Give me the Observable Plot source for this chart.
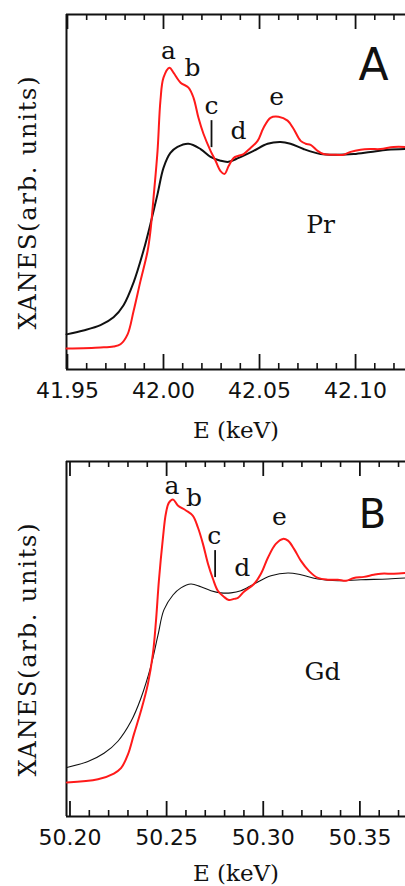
<!DOCTYPE html>
<html>
<head>
<meta charset="utf-8">
<script src="https://cdn.jsdelivr.net/npm/d3@7"></script>
<script src="https://cdn.jsdelivr.net/npm/@observablehq/plot@0.6"></script>
<style>
  html, body { margin: 0; padding: 0; background: #fff; }
  #chart svg { display: block; }
</style>
</head>
<body>
<div id="chart"></div>
<script>
// ---------- Panel A (Pr) ----------
const energyA_red = [41.9495, 41.9672, 41.9740, 41.9776, 41.9813, 41.9844, 41.9880, 41.9917, 41.9932, 41.9948, 41.9969, 41.9984, 42.0000, 42.0031, 42.0052, 42.0089, 42.0130, 42.0156, 42.0182, 42.0208, 42.0245, 42.0271, 42.0297, 42.0318, 42.0339, 42.0365, 42.0391, 42.0417, 42.0453, 42.0490, 42.0521, 42.0557, 42.0599, 42.0646, 42.0677, 42.0714, 42.0740, 42.0766, 42.0802, 42.0833, 42.0885, 42.0938, 42.0974, 42.1026, 42.1078, 42.1130, 42.1198, 42.1260];
const xanesA_red = [0.059, 0.062, 0.065, 0.071, 0.099, 0.164, 0.249, 0.333, 0.390, 0.483, 0.616, 0.757, 0.822, 0.850, 0.836, 0.808, 0.794, 0.766, 0.709, 0.664, 0.616, 0.588, 0.559, 0.551, 0.573, 0.596, 0.602, 0.607, 0.624, 0.644, 0.681, 0.709, 0.712, 0.701, 0.678, 0.644, 0.636, 0.633, 0.616, 0.607, 0.605, 0.605, 0.613, 0.619, 0.621, 0.621, 0.627, 0.627];
const energyA_black = [41.9495, 41.9583, 41.9672, 41.9740, 41.9792, 41.9844, 41.9896, 41.9932, 41.9969, 42.0000, 42.0036, 42.0073, 42.0130, 42.0193, 42.0245, 42.0297, 42.0339, 42.0391, 42.0469, 42.0542, 42.0609, 42.0661, 42.0729, 42.0818, 42.0906, 42.0990, 42.1078, 42.1167, 42.1260];
const xanesA_black = [0.099, 0.110, 0.125, 0.147, 0.181, 0.245, 0.335, 0.410, 0.494, 0.568, 0.610, 0.627, 0.636, 0.621, 0.599, 0.588, 0.585, 0.596, 0.616, 0.636, 0.641, 0.636, 0.621, 0.607, 0.605, 0.607, 0.613, 0.619, 0.621];
const xDomainA = [41.9495, 42.1260];
const majorTicksA = [41.95, 42.00, 42.05, 42.10];
const minorTicksA = [41.96, 41.97, 41.98, 41.99, 42.01, 42.02, 42.03, 42.04, 42.06, 42.07, 42.08, 42.09, 42.11, 42.12];
const labelsA = [
  {text: "a", e: 42.0026, v: 0.896},
  {text: "b", e: 42.0151, v: 0.848},
  {text: "c", e: 42.0250, v: 0.741},
  {text: "d", e: 42.0391, v: 0.673},
  {text: "e", e: 42.0589, v: 0.769},
  {text: "Pr", e: 42.0818, v: 0.406}
];
const markerA = {e: 42.0250, v1: 0.701, v2: 0.625};
const panelLetterA = {text: "A", e: 42.1094, v: 0.854, size: 44};

// ---------- Panel B (Gd) ----------
const energyB_red = [50.1984, 50.2145, 50.2227, 50.2264, 50.2300, 50.2331, 50.2367, 50.2403, 50.2429, 50.2445, 50.2460, 50.2481, 50.2496, 50.2512, 50.2533, 50.2558, 50.2600, 50.2636, 50.2662, 50.2688, 50.2714, 50.2740, 50.2765, 50.2796, 50.2822, 50.2848, 50.2869, 50.2900, 50.2952, 50.2988, 50.3024, 50.3065, 50.3102, 50.3128, 50.3159, 50.3195, 50.3236, 50.3283, 50.3334, 50.3386, 50.3428, 50.3469, 50.3521, 50.3572, 50.3609, 50.3676, 50.3738];
const xanesB_red = [0.096, 0.105, 0.121, 0.136, 0.175, 0.232, 0.297, 0.373, 0.458, 0.551, 0.664, 0.785, 0.853, 0.884, 0.893, 0.876, 0.862, 0.847, 0.814, 0.768, 0.712, 0.669, 0.636, 0.619, 0.610, 0.613, 0.616, 0.633, 0.655, 0.684, 0.729, 0.768, 0.782, 0.777, 0.754, 0.720, 0.692, 0.672, 0.667, 0.667, 0.664, 0.672, 0.675, 0.681, 0.684, 0.684, 0.686];
const energyB_black = [50.1984, 50.2093, 50.2176, 50.2248, 50.2316, 50.2367, 50.2419, 50.2455, 50.2486, 50.2533, 50.2574, 50.2626, 50.2677, 50.2729, 50.2781, 50.2833, 50.2884, 50.2952, 50.3040, 50.3128, 50.3195, 50.3283, 50.3386, 50.3505, 50.3645, 50.3738];
const xanesB_black = [0.138, 0.155, 0.178, 0.212, 0.268, 0.333, 0.424, 0.510, 0.582, 0.624, 0.644, 0.655, 0.647, 0.636, 0.630, 0.630, 0.636, 0.655, 0.678, 0.686, 0.681, 0.669, 0.664, 0.667, 0.669, 0.672];
const xDomainB = [50.1982, 50.3736];
const majorTicksB = [50.20, 50.25, 50.30, 50.35];
const minorTicksB = [50.21, 50.22, 50.23, 50.24, 50.26, 50.27, 50.28, 50.29, 50.31, 50.32, 50.33, 50.34, 50.36, 50.37];
const labelsB = [
  {text: "a", e: 50.2528, v: 0.932},
  {text: "b", e: 50.2642, v: 0.896},
  {text: "c", e: 50.2746, v: 0.789},
  {text: "d", e: 50.2891, v: 0.699},
  {text: "e", e: 50.3083, v: 0.845},
  {text: "Gd", e: 50.3306, v: 0.408}
];
const markerB = {e: 50.2751, v1: 0.749, v2: 0.673};
const panelLetterB = {text: "B", e: 50.3565, v: 0.848, size: 40};

const yLabel = "XANES(arb. units)";
const xLabel = "E (keV)";

const serif = "'DejaVu Serif', serif";
const sans = "'DejaVu Sans', sans-serif";

function zip(xs, ys) { return xs.map((x, i) => ({e: x, v: ys[i]})); }

function panel(cfg) {
  const plotH = cfg.height - cfg.marginTop - cfg.marginBottom;
  return Plot.plot({
    width: 405,
    height: cfg.height,
    marginLeft: 66,
    marginRight: 0,
    marginTop: cfg.marginTop,
    marginBottom: cfg.marginBottom,
    x: {domain: cfg.xDomain, axis: null},
    y: {domain: [0, 1], axis: null},
    style: {background: "#fff", overflow: "hidden"},
    marks: [
      // frame (left, top, bottom)
      Plot.ruleX([cfg.xDomain[0]], {stroke: "#111", strokeWidth: 2}),
      Plot.ruleY([0, 1], {stroke: "#111", strokeWidth: 2}),
      // inward ticks, bottom and top
      Plot.tickX(cfg.major, {x: d => d, insetTop: plotH - 15, stroke: "#111", strokeWidth: 1.8}),
      Plot.tickX(cfg.major, {x: d => d, insetBottom: plotH - 15, stroke: "#111", strokeWidth: 1.8}),
      Plot.tickX(cfg.minor, {x: d => d, insetTop: plotH - 6, stroke: "#111", strokeWidth: 1.6}),
      Plot.tickX(cfg.minor, {x: d => d, insetBottom: plotH - 6, stroke: "#111", strokeWidth: 1.6}),
      // tick labels
      Plot.axisX(cfg.major, {anchor: "bottom", tickSize: 0, tickPadding: 13, tickFormat: d3.format(".2f"),
        fontSize: 22, fontFamily: sans, fill: "#111", label: null}),
      // curves
      Plot.line(zip(cfg.eBlack, cfg.vBlack), {x: "e", y: "v", stroke: "#111", strokeWidth: cfg.blackWidth, curve: "catmull-rom"}),
      Plot.line(zip(cfg.eRed, cfg.vRed), {x: "e", y: "v", stroke: "#ff1a1a", strokeWidth: 2, curve: "catmull-rom"}),
      // annotations
      Plot.text(cfg.labels, {x: "e", y: "v", text: "text", fontSize: 25, fontFamily: serif, fill: "#111", lineAnchor: "middle"}),
      Plot.ruleX([cfg.marker], {x: "e", y1: "v1", y2: "v2", stroke: "#111", strokeWidth: 1.8}),
      Plot.text([cfg.letter], {x: "e", y: "v", text: "text", fontSize: cfg.letter.size, fontFamily: sans, fill: "#111", lineAnchor: "middle"}),
      // axis titles
      Plot.text([yLabel], {frameAnchor: "left", textAnchor: "middle", dx: -38, dy: 10, rotate: -90, fontSize: 24, fontFamily: serif,
        fill: "#111"}),
      Plot.text([xLabel], {frameAnchor: "bottom", textAnchor: "middle", dy: cfg.xLabelDy, fontSize: 23, fontFamily: serif, fill: "#111",
        lineAnchor: "middle"})
    ]
  });
}

const chartA = panel({
  height: 445, marginTop: 14, marginBottom: 76, xDomain: xDomainA,
  major: majorTicksA, minor: minorTicksA,
  eRed: energyA_red, vRed: xanesA_red, eBlack: energyA_black, vBlack: xanesA_black, blackWidth: 2,
  labels: labelsA, marker: markerA, letter: panelLetterA, xLabelDy: 61
});
const chartB = panel({
  height: 441, marginTop: 16, marginBottom: 70, xDomain: xDomainB,
  major: majorTicksB, minor: minorTicksB,
  eRed: energyB_red, vRed: xanesB_red, eBlack: energyB_black, vBlack: xanesB_black, blackWidth: 1.1,
  labels: labelsB, marker: markerB, letter: panelLetterB, xLabelDy: 57
});
const root = document.getElementById("chart");
root.append(chartA, chartB);
// slight letter spacing of the typewriter-like y title
d3.selectAll("#chart text").each(function () {
  if (this.textContent === yLabel) this.setAttribute("letter-spacing", "1.8");
});
</script>
</body>
</html>
